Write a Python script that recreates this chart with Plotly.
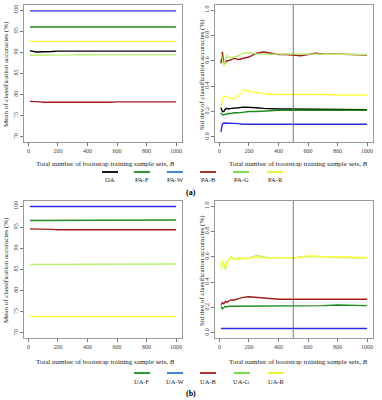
import plotly.graph_objects as go

# ---------------- data ----------------
B = [10, 20, 30, 40, 50, 60, 80, 100, 130, 160, 200, 250, 300, 350, 400,
     450, 500, 550, 600, 650, 700, 800, 900, 1000]

# (a) means of producer's / overall accuracies (%)
mean_OA  = [90.4, 90.3, 90.3, 90.2, 90.1, 90.1, 90.1, 90.1, 90.2, 90.2, 90.3, 90.3,
            90.3, 90.3, 90.3, 90.3, 90.3, 90.3, 90.3, 90.3, 90.3, 90.3, 90.3, 90.3]
mean_PAF = [96.0] * 24
mean_PAW = [99.8] * 24
mean_PAB = [78.4, 78.4, 78.3, 78.3, 78.3, 78.3, 78.3, 78.2, 78.2, 78.2, 78.1, 78.2,
            78.2, 78.2, 78.1, 78.2, 78.1, 78.2, 78.3, 78.3, 78.3, 78.3, 78.3, 78.3]
mean_PAG = [89.3, 89.3, 89.3, 89.3, 89.3, 89.3, 89.3, 89.3, 89.4, 89.4, 89.4, 89.4,
            89.4, 89.5, 89.4, 89.4, 89.4, 89.4, 89.4, 89.4, 89.4, 89.4, 89.4, 89.4]
mean_PAR = [92.7, 92.6, 92.6, 92.6, 92.6, 92.6, 92.6, 92.6, 92.6, 92.6, 92.6, 92.6,
            92.6, 92.6, 92.6, 92.6, 92.6, 92.5, 92.6, 92.6, 92.6, 92.6, 92.6, 92.6]

# (a) std dev (%)
sd_OA  = [.23, .20, .20, .22, .225, .22, .225, .225, .23, .235, .235, .23, .225, .22,
          .22, .22, .22, .22, .22, .22, .22, .22, .22, .215]
sd_PAF = [.19, .175, .175, .18, .18, .185, .185, .19, .19, .195, .20, .20, .205, .21,
          .21, .21, .21, .21, .21, .21, .21, .21, .21, .21]
sd_PAW = [.04, .10, .11, .11, .11, .105, .105, .105, .105, .10, .10, .10, .10, .10,
          .10, .10, .10, .10, .10, .10, .10, .10, .10, .10]
sd_PAB = [.58, .67, .57, .59, .60, .60, .61, .62, .61, .62, .63, .66, .67, .66,
          .65, .65, .645, .64, .65, .66, .655, .655, .65, .645]
sd_PAG = [.67, .62, .56, .60, .64, .63, .62, .63, .64, .66, .665, .655, .65, .65,
          .655, .655, .655, .655, .65, .655, .655, .655, .655, .65]
sd_PAR = [.22, .30, .32, .32, .32, .31, .31, .30, .33, .37, .36, .35, .34, .335,
          .335, .335, .34, .335, .335, .335, .335, .33, .33, .33]

# (b) means of user's accuracies (%)
mean_UAF = [96.6, 96.6, 96.6, 96.6, 96.6, 96.6, 96.6, 96.6, 96.6, 96.6, 96.7, 96.7,
            96.7, 96.7, 96.7, 96.7, 96.7, 96.7, 96.7, 96.7, 96.7, 96.7, 96.7, 96.7]
mean_UAW = [99.9] * 24
mean_UAB = [94.6, 94.6, 94.5, 94.5, 94.5, 94.5, 94.5, 94.5, 94.5, 94.5, 94.4, 94.4,
            94.4, 94.4, 94.4, 94.4, 94.4, 94.4, 94.4, 94.4, 94.4, 94.4, 94.4, 94.4]
mean_UAG = [86.2, 86.2, 86.2, 86.2, 86.2, 86.2, 86.2, 86.2, 86.3, 86.3, 86.3, 86.3,
            86.3, 86.3, 86.3, 86.3, 86.3, 86.3, 86.3, 86.3, 86.3, 86.3, 86.3, 86.3]
mean_UAR = [73.9] * 24

# (b) std dev (%)
sd_UAF = [.21, .19, .20, .21, .205, .21, .21, .21, .21, .215, .215, .215, .215, .215,
          .215, .215, .215, .215, .215, .215, .215, .22, .215, .215]
sd_UAW = [.035] * 24
sd_UAB = [.22, .24, .23, .25, .24, .25, .26, .26, .27, .28, .285, .28, .27, .265,
          .265, .265, .265, .27, .27, .265, .265, .265, .265, .265]
sd_UAG = [.55, .52, .55, .50, .56, .57, .60, .58, .59, .585, .59, .61, .60, .59,
          .595, .59, .59, .60, .60, .605, .60, .595, .595, .59]
sd_UAR = [.50, .57, .52, .55, .53, .58, .59, .58, .58, .59, .585, .60, .59, .59,
          .59, .59, .59, .595, .61, .605, .60, .60, .60, .595]

labels_a = ["OA", "PA-F", "PA-W", "PA-B", "PA-G", "PA-R"]
labels_b = ["UA-F", "UA-W", "UA-B", "UA-G", "UA-R"]
x_ticks = [0, 200, 400, 600, 800, 1000]
mean_ticks = [70, 75, 80, 85, 90, 95, 100]
sd_ticks = [0.0, 0.2, 0.4, 0.6, 0.8, 1.0]

# ---------------- style ----------------
W, H = 382, 400
C_LINE = {"OA": "#000000", "F": "#1c8c1c", "W": "#2a2ae0", "B": "#a01c1c",
          "G": "#b8f070", "R": "#ffff44"}
C_LEG = {"OA": "#000000", "F": "#1c8c1c", "W": "#3378d0", "B": "#a01c1c",
         "G": "#66dd33", "R": "#eeee22"}
FONT = "Liberation Serif, DejaVu Serif, serif"

def px(x):
    return x / W

def py(y):
    return 1 - y / H

fig = go.Figure()

panels = [
    ("x", "y", [(mean_OA, "OA"), (mean_PAF, "F"), (mean_PAW, "W"), (mean_PAB, "B"),
                (mean_PAG, "G"), (mean_PAR, "R")]),
    ("x2", "y2", [(sd_PAB, "B"), (sd_PAG, "G"), (sd_PAR, "R"), (sd_OA, "OA"),
                  (sd_PAF, "F"), (sd_PAW, "W")]),
    ("x3", "y3", [(mean_UAF, "F"), (mean_UAW, "W"), (mean_UAB, "B"), (mean_UAG, "G"),
                  (mean_UAR, "R")]),
    ("x4", "y4", [(sd_UAB, "B"), (sd_UAF, "F"), (sd_UAW, "W"), (sd_UAG, "G"),
                  (sd_UAR, "R")]),
]
for xa, ya, series in panels:
    for vals, key in series:
        fig.add_trace(go.Scatter(x=B, y=vals, mode="lines", xaxis=xa, yaxis=ya,
                                 line=dict(color=C_LINE[key], width=1.4),
                                 showlegend=False, hoverinfo="skip"))

# vertical reference line at B = 500 on std-dev panels
for xa, ya in [("x2", "y2"), ("x4", "y4")]:
    fig.add_shape(type="line", xref=xa, yref=f"{ya} domain", x0=500, x1=500, y0=0, y1=1,
                  line=dict(color="#777777", width=1))

tickfont = dict(family=FONT, size=6, color="#444444")
common_x = dict(range=[-30, 1040], tickvals=x_ticks, ticks="outside", ticklen=3,
                tickcolor="#777777", showline=True, mirror=True, linecolor="#999999",
                linewidth=1, showgrid=False, zeroline=False, tickfont=tickfont)
common_y = dict(ticks="outside", ticklen=3, tickcolor="#777777", showline=True,
                mirror=True, linecolor="#999999", linewidth=1, showgrid=False,
                zeroline=False, tickfont=tickfont, tickangle=-90)

left = [px(24), px(182)]
right = [px(215), px(373)]
top = [py(142), py(5)]
bot = [py(338), py(201)]

fig.update_layout(
    width=W, height=H, margin=dict(l=0, r=0, t=0, b=0),
    paper_bgcolor="white", plot_bgcolor="white", showlegend=False,
    xaxis=dict(domain=left, anchor="y", **common_x),
    yaxis=dict(domain=top, anchor="x", range=[68.8, 101.2], tickvals=mean_ticks, **common_y),
    xaxis2=dict(domain=right, anchor="y2", **common_x),
    yaxis2=dict(domain=top, anchor="x2", range=[-0.04, 1.04], tickvals=sd_ticks,
                tickformat=".1f", **common_y),
    xaxis3=dict(domain=left, anchor="y3", **common_x),
    yaxis3=dict(domain=bot, anchor="x3", range=[68.8, 101.2], tickvals=mean_ticks, **common_y),
    xaxis4=dict(domain=right, anchor="y4", **common_x),
    yaxis4=dict(domain=bot, anchor="x4", range=[-0.04, 1.04], tickvals=sd_ticks,
                tickformat=".1f", **common_y),
)

def text(x, y, s, size=7, angle=0, color="#222222"):
    fig.add_annotation(x=px(x), y=py(y), xref="paper", yref="paper", text=s,
                       showarrow=False, textangle=angle, xanchor="center",
                       yanchor="middle", font=dict(family=FONT, size=size, color=color))

xtitle = "Total number of bootstrap training sample sets, <i>B</i>"
for cx in (105, 298):
    text(cx, 164, xtitle)
    text(cx, 362, xtitle)
text(6, 74, "Mean of classification accuracies (%)", angle=-90)
text(202, 74, "Std dev of classification accuracies (%)", angle=-90)
text(6, 270, "Mean of classification accuracies (%)", angle=-90)
text(202, 270, "Std dev of classification accuracies (%)", angle=-90)

# legends
def legend(items, keys, centers, yline, ylab):
    for lab, key, cx in zip(items, keys, centers):
        fig.add_shape(type="line", xref="paper", yref="paper",
                      x0=px(cx - 8), x1=px(cx + 8), y0=py(yline), y1=py(yline),
                      line=dict(color=C_LEG[key], width=1.8))
        text(cx, ylab, lab, size=6.5)

legend(labels_a, ["OA", "F", "W", "B", "G", "R"], [110, 142, 175, 208, 241, 275], 172, 180)
legend(labels_b, ["F", "W", "B", "G", "R"], [142, 175, 208, 242, 276], 373, 381)
text(191, 193, "<b>(a)</b>", size=8, color="#000000")
text(191, 393, "<b>(b)</b>", size=8, color="#000000")

fig.write_html("out.html")
